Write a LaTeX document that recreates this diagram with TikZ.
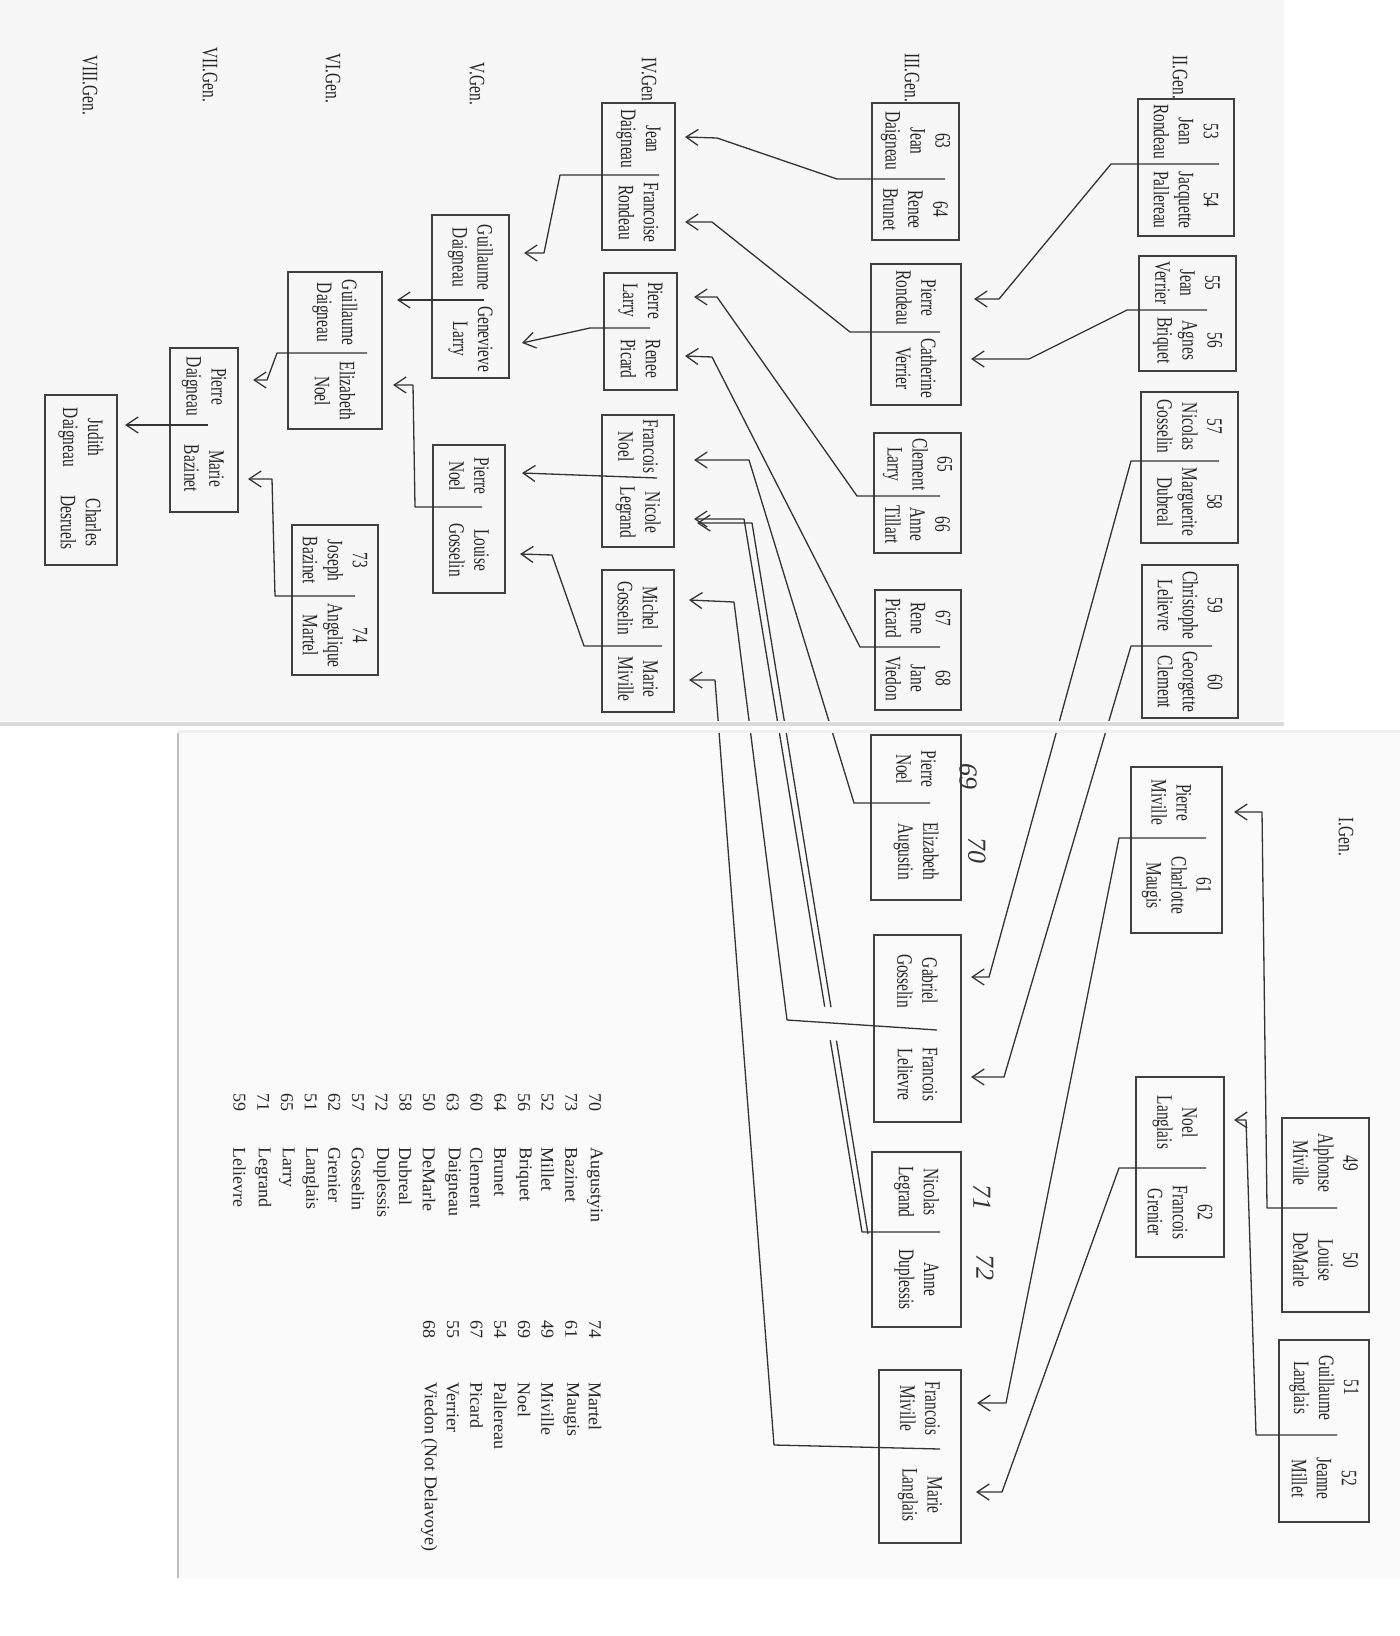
\documentclass[tikz,border=0pt]{standalone}
\usepackage{fontspec}
\setmainfont{Liberation Serif}
\newfontfamily\condfont[FakeStretch=0.7]{Liberation Serif}
\usetikzlibrary{arrows.meta,calc}
% #1 name, #2 x1, #3 y1, #4 x2, #5 y2, #6 y of divider, #7 upper person, #8 lower person
\newcommand\famBox[8]{%
  \node[boxframe, minimum width={(#4-#2)*0.5pt}, minimum height={(#5-#3)*0.5pt}] (#1) at ({(#2+#4)/2},{(#3+#5)/2}) {};
  \node[person] (#1-t) at ({(#2+#4)/2},{(#3+#6)/2}) {#7};
  \node[person] (#1-b) at ({(#2+#4)/2},{(#6+#5)/2}) {#8};
}
\begin{document}
\begin{tikzpicture}[x=0.5pt,y=-0.5pt,
  boxframe/.style={draw=black!75, line width=0.85pt, inner sep=0pt, outer sep=0pt, rectangle},
  person/.style={rotate=-90, align=center, inner sep=0pt, text=black!85,
    font=\condfont\fontsize{11}{12.5}\selectfont},
  genlabel/.style={rotate=-90, anchor=west, inner sep=0pt, text=black!85,
    font=\condfont\fontsize{11}{12}\selectfont},
  hand/.style={rotate=-90, inner sep=0pt, text=black!80,
    font=\itshape\fontsize{13}{13}\selectfont},
  idx/.style={rotate=-90, anchor=west, inner sep=0pt, text=black!85,
    font=\fontsize{9}{10}\selectfont},
  sepline/.style={draw=black!80, line width=0.65pt, line join=round},
  conn/.style={sepline, -{Straight Barb[length=6pt,width=8pt]}},
]
\useasboundingbox (0,0) rectangle (1400,1636);
% scanned page backgrounds
\fill[black!3] (0,0) rectangle (1284,721);
\fill[black!2] (178,733) rectangle (1400,1578);
\draw[black!25, line width=1pt] (178,733) -- (178,1578);

% ---------- generation labels ----------
\node[genlabel] (g1) at (1346,817) {I.Gen.};
\node[genlabel] (g2) at (1180,55) {II.Gen.};
\node[genlabel] (g3) at (912,53) {III.Gen.};
\node[genlabel] (g4) at (649,57) {IV.Gen};
\node[genlabel] (g5) at (477,62) {V.Gen.};
\node[genlabel] (g6) at (333,53) {VI.Gen.};
\node[genlabel] (g7) at (210,47) {VII.Gen.};
\node[genlabel] (g8) at (90,55) {VIII.Gen.};

% ---------- boxes ----------
% I. Gen.
\famBox{b49}{1282}{1118}{1369}{1312}{1208}{49\\Alphonse\\Miville}{50\\Louise\\DeMarle}
\famBox{b51}{1279}{1340}{1369}{1522}{1435}{51\\Guillaume\\Langlais}{52\\Jeanne\\Millet}
\famBox{b61}{1131}{767}{1222}{933}{838}{\mbox{}\\Pierre\\Miville}{61\\Charlotte\\Maugis}
\famBox{b62}{1136}{1077}{1224}{1257}{1168}{\mbox{}\\Noel\\Langlais}{62\\Francois\\Grenier}
% II. Gen.
\famBox{b53}{1138}{99}{1234}{236}{164}{53\\Jean\\Rondeau}{54\\Jacquette\\Pallereau}
\famBox{b55}{1139}{256}{1236}{371}{310}{55\\Jean\\Verrier}{56\\Agnes\\Briquet}
\famBox{b57}{1141}{392}{1238}{543}{461}{57\\Nicolas\\Gosselin}{58\\Marguerite\\Dubreal}
\famBox{b59}{1142}{565}{1238}{718}{646}{59\\Christophe\\Lelievre}{60\\Georgette\\Clement}
% III. Gen.
\famBox{b63}{872}{103}{959}{240}{179}{63\\Jean\\Daigneau}{64\\Renee\\Brunet}
\famBox{bPR}{871}{264}{961}{405}{332}{Pierre\\Rondeau}{Catherine\\Verrier}
\famBox{b65}{874}{433}{961}{553}{496}{65\\Clement\\Larry}{66\\Anne\\Tillart}
\famBox{b67}{875}{590}{961}{710}{647}{67\\Rene\\Picard}{68\\Jane\\Viedon}
\famBox{b69}{871}{735}{961}{900}{803}{Pierre\\Noel}{Elizabeth\\Augustin}
\famBox{bGG}{874}{935}{961}{1122}{1027}{Gabriel\\Gosselin}{Francois\\Lelievre}
\famBox{b71}{872}{1152}{961}{1327}{1232}{Nicolas\\Legrand}{Anne\\Duplessis}
\famBox{bFM}{879}{1370}{961}{1543}{1447}{Francois\\Miville}{Marie\\Langlais}
% IV. Gen.
\famBox{bJD}{602}{103}{675}{250}{175}{Jean\\Daigneau}{Francoise\\Rondeau}
\famBox{bPL}{604}{273}{677}{390}{328}{Pierre\\Larry}{Renee\\Picard}
\famBox{bFN}{602}{415}{674}{547}{478}{Francois\\Noel}{Nicole\\Legrand}
\famBox{bMG}{602}{570}{674}{712}{646}{Michel\\Gosselin}{Marie\\Miville}
% V. Gen.
\famBox{bGD}{432}{215}{509}{378}{300}{Guillaume\\Daigneau}{Genevieve\\Larry}
\famBox{bPN}{433}{445}{505}{593}{507}{Pierre\\Noel}{Louise\\Gosselin}
% VI. Gen.
\famBox{bGE}{288}{272}{382}{429}{353}{Guillaume\\Daigneau}{Elizabeth\\Noel}
\famBox{b73}{292}{525}{378}{675}{596}{73\\Joseph\\Bazinet}{74\\Angelique\\Martel}
% VII. Gen.
\famBox{bPD}{170}{348}{238}{512}{425}{Pierre\\Daigneau}{Marie\\Bazinet}
% VIII. Gen.
\famBox{bJu}{45}{395}{117}{565}{480}{Judith\\Daigneau}{Charles\\Desruels}

% handwritten numbers
\node[hand] (h69) at (968,776) {69};
\node[hand] (h70) at (977,850) {70};
\node[hand] (h71) at (982,1197) {71};
\node[hand] (h72) at (985,1267) {72};

% ---------- connectors (divider of parents' box -> child) ----------
\coordinate (s49) at (1337,1208); \coordinate (t49) at (1234,812);
\draw[conn] (s49) -- (1267,1208) -- (1262,812) -- (t49);
\coordinate (s51) at (1337,1435); \coordinate (t51) at (1234,1120);
\draw[conn] (s51) -- (1256,1435) -- (1246,1120) -- (t51);
\coordinate (s61) at (1206,838); \coordinate (t61) at (977,1403);
\draw[conn] (s61) -- (1119,838) -- (1006,1403) -- (t61);
\coordinate (s62) at (1206,1168); \coordinate (t62) at (976,1492);
\draw[conn] (s62) -- (1119,1168) -- (1002,1492) -- (t62);

\coordinate (s53) at (1219,164); \coordinate (t53) at (974,299);
\draw[conn] (s53) -- (1111,164) -- (999,299) -- (t53);
\coordinate (s55) at (1207,310); \coordinate (t55) at (971,359);
\draw[conn] (s55) -- (1127,310) -- (1029,359) -- (t55);
\coordinate (s57) at (1219,461); \coordinate (t57) at (971,977);
\draw[conn] (s57) -- (1131,461) -- (989,977) -- (t57);
\coordinate (s59) at (1212,646); \coordinate (t59) at (971,1077);
\draw[conn] (s59) -- (1131,646) -- (1004,1077) -- (t59);

\coordinate (s63) at (945,179); \coordinate (t63) at (685,137);
\draw[conn] (s63) -- (837,179) -- (717,138) -- (t63);
\coordinate (sPR) at (940,332); \coordinate (tPR) at (685,222);
\draw[conn] (sPR) -- (850,332) -- (712,222) -- (tPR);
\coordinate (s65) at (940,496); \coordinate (t65) at (694,297);
\draw[conn] (s65) -- (857,496) -- (717,297) -- (t65);
\coordinate (s67) at (940,647); \coordinate (t67) at (685,356);
\draw[conn] (s67) -- (860,647) -- (712,357) -- (t67);
\coordinate (s69) at (930,803); \coordinate (t69) at (694,460);
\draw[conn] (s69) -- (854,803) -- (749,460) -- (t69);
\coordinate (sGG) at (937,1030); \coordinate (tGG) at (689,600);
\draw[conn] (sGG) -- (787,1020) -- (734,602) -- (tGG);
\coordinate (sFM) at (940,1449); \coordinate (tFM) at (689,680);
\draw[conn] (sFM) -- (774,1445) -- (715,680) -- (tFM);
% double line from 71/72 to Nicole Legrand, interrupted where it crosses
\coordinate (s71) at (940,1232);
\coordinate (e71a) at (862,1232); \coordinate (k71a) at (744,519); \coordinate (t71a) at (694,519);
\draw[sepline] (s71) -- (e71a) -- ($(e71a)!0.269!(k71a)$);
\draw[conn] ($(e71a)!0.316!(k71a)$) -- (k71a) -- (t71a);
\coordinate (e71b) at (868,1234); \coordinate (k71b) at (752,523); \coordinate (t71b) at (697,523);
\draw[sepline] (e71b) -- ($(e71b)!0.272!(k71b)$);
\draw[conn] ($(e71b)!0.319!(k71b)$) -- (k71b) -- (t71b);

\coordinate (sJD) at (659,175); \coordinate (tJD) at (524,253);
\draw[conn] (sJD) -- (560,175) -- (544,253) -- (tJD);
\coordinate (sPL) at (650,328); \coordinate (tPL) at (522,343);
\draw[conn] (sPL) -- (590,328) -- (tPL);
\coordinate (sFN) at (657,478); \coordinate (tFN) at (522,473);
\draw[conn] (sFN) -- (tFN);
\coordinate (sMG) at (662,646); \coordinate (tMG) at (520,554);
\draw[conn] (sMG) -- (584,646) -- (552,555) -- (tMG);

\coordinate (sGD) at (484,300); \coordinate (tGD) at (397,300);
\draw[conn] (sGD) -- (tGD);
\coordinate (sPN) at (482,507); \coordinate (tPN) at (393,385);
\draw[conn] (sPN) -- (415,507) -- (413,385) -- (tPN);

\coordinate (sGE) at (367,353); \coordinate (tGE) at (253,380);
\draw[conn] (sGE) -- (277,353) -- (267,380) -- (tGE);
\coordinate (s73) at (355,596); \coordinate (t73) at (248,479);
\draw[conn] (s73) -- (275,596) -- (272,479) -- (t73);

\coordinate (sPD) at (208,425); \coordinate (tPD) at (125,425);
\draw[conn] (sPD) -- (tPD);

% seam between the two scanned sheets
\fill[white] (0,721) rectangle (1400,733);
\fill[black!14] (0,722) rectangle (1284,726);
\fill[black!6] (178,730) rectangle (1400,733);

% ---------- index of names ----------
\foreach \n/\s [count=\i from 0] in {70/Augustyin,73/Bazinet,52/Millet,56/Briquet,64/Brunet,60/Clement,63/Daigneau,50/DeMarle,58/Dubreal,72/Duplessis,57/Gosselin,62/Grenier,51/Langlais,65/Larry,71/Legrand,59/Lelievre}{
  \node[idx] (ia\i) at ({595-23.7*\i},1093) {\n};
  \node[idx] (ib\i) at ({595-23.7*\i},1147) {\s};
}
\foreach \n/\s [count=\i from 0] in {74/Martel,61/Maugis,49/Miville,69/Noel,54/Pallereau,67/Picard,55/Verrier,68/{Viedon (Not Delavoye)}}{
  \node[idx] (ic\i) at ({595-23.7*\i},1320) {\n};
  \node[idx] (id\i) at ({595-23.7*\i},1382) {\s};
}
\end{tikzpicture}
\end{document}
